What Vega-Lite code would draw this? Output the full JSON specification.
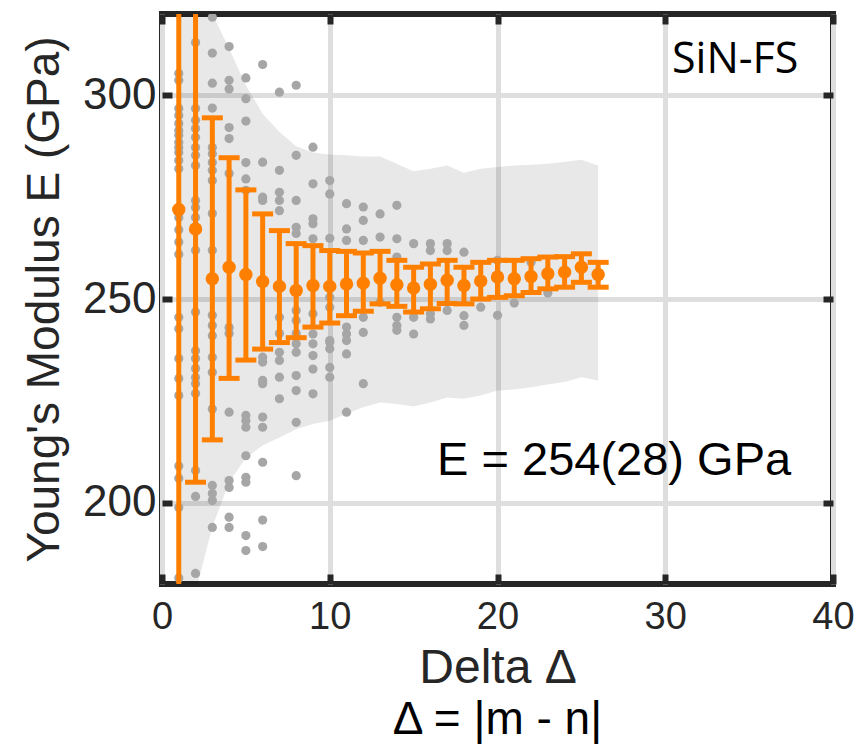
{
  "$schema": "https://vega.github.io/schema/vega-lite/v6.json",
  "width": 671,
  "height": 570,
  "autosize": "none",
  "padding": {"left": 162, "top": 14, "right": 23, "bottom": 169},
  "background": "white",
  "config": {
    "font": "Liberation Sans",
    "view": {"stroke": "#262626", "strokeWidth": 6},
    "axis": {
      "labelFont": "Liberation Sans",
      "titleFont": "Liberation Sans",
      "labelColor": "#262626",
      "titleColor": "#262626",
      "titleFontWeight": "normal",
      "labelFlush": false,
      "grid": true,
      "gridColor": "#dedede",
      "gridWidth": 5,
      "domain": false,
      "tickColor": "#262626",
      "tickWidth": 6,
      "tickSize": -10
    }
  },
  "title": {
    "text": "Δ = |m - n|",
    "orient": "bottom",
    "anchor": "middle",
    "fontSize": 46,
    "fontWeight": "normal",
    "font": "Liberation Sans",
    "color": "#000000",
    "offset": 6
  },
  "datasets": {
    "band": [
      {"d": 1, "lo": 140, "hi": 360},
      {"d": 2, "lo": 178, "hi": 340},
      {"d": 3, "lo": 194, "hi": 320},
      {"d": 4, "lo": 205, "hi": 311.5},
      {"d": 5, "lo": 211, "hi": 302.5},
      {"d": 6, "lo": 214, "hi": 295.5},
      {"d": 7, "lo": 216, "hi": 291},
      {"d": 8, "lo": 218, "hi": 287.5},
      {"d": 9, "lo": 219.3, "hi": 286},
      {"d": 10, "lo": 220.1, "hi": 285.5},
      {"d": 11, "lo": 221.8, "hi": 285.3},
      {"d": 12, "lo": 223.4, "hi": 285},
      {"d": 13, "lo": 224.6, "hi": 285},
      {"d": 14, "lo": 224.2, "hi": 283.2},
      {"d": 15, "lo": 223.6, "hi": 281.4},
      {"d": 16, "lo": 224.6, "hi": 282},
      {"d": 17, "lo": 225.8, "hi": 282.8},
      {"d": 18, "lo": 225.5, "hi": 281},
      {"d": 19, "lo": 226.3, "hi": 282},
      {"d": 20, "lo": 227.5, "hi": 282.4},
      {"d": 21, "lo": 227.8, "hi": 282.8},
      {"d": 22, "lo": 228.3, "hi": 283},
      {"d": 23, "lo": 229, "hi": 283.2},
      {"d": 24, "lo": 229.6, "hi": 283.7},
      {"d": 25, "lo": 230.8, "hi": 284.2},
      {"d": 26, "lo": 230, "hi": 282.8}
    ],
    "mean": [
      {"d": 1, "E": 272, "lo": 165, "hi": 380},
      {"d": 2, "E": 267.2, "lo": 205, "hi": 330},
      {"d": 3, "E": 255, "lo": 215.4, "hi": 294.5},
      {"d": 4, "E": 257.8, "lo": 230.5, "hi": 284.7},
      {"d": 5, "E": 256, "lo": 235, "hi": 276.8},
      {"d": 6, "E": 254.3, "lo": 237.7, "hi": 270.9},
      {"d": 7, "E": 253.1, "lo": 239.3, "hi": 266.8},
      {"d": 8, "E": 252.1, "lo": 240.5, "hi": 263.6},
      {"d": 9, "E": 253.3, "lo": 243.1, "hi": 263.1},
      {"d": 10, "E": 253.1, "lo": 244.1, "hi": 261.9},
      {"d": 11, "E": 253.7, "lo": 245.9, "hi": 261.7},
      {"d": 12, "E": 253.9, "lo": 247, "hi": 261.3},
      {"d": 13, "E": 255.1, "lo": 248.8, "hi": 261.7},
      {"d": 14, "E": 253.5, "lo": 248.2, "hi": 259.5},
      {"d": 15, "E": 252.7, "lo": 246.8, "hi": 257.8},
      {"d": 16, "E": 253.6, "lo": 247.6, "hi": 258.6},
      {"d": 17, "E": 254.6, "lo": 248.9, "hi": 259.5},
      {"d": 18, "E": 253.3, "lo": 248.8, "hi": 257.8},
      {"d": 19, "E": 254.4, "lo": 250, "hi": 259},
      {"d": 20, "E": 255.4, "lo": 250.4, "hi": 259.5},
      {"d": 21, "E": 255, "lo": 250.8, "hi": 259.5},
      {"d": 22, "E": 255.5, "lo": 251.6, "hi": 259.9},
      {"d": 23, "E": 256.2, "lo": 252.5, "hi": 260.3},
      {"d": 24, "E": 256.6, "lo": 252.9, "hi": 260.4},
      {"d": 25, "E": 257.8, "lo": 254.1, "hi": 261.1},
      {"d": 26, "E": 256, "lo": 252.9, "hi": 259}
    ],
    "pts": [
      {"d":1,"E":305.4},{"d":1,"E":303.7},{"d":1,"E":296.8},{"d":1,"E":295.1},{"d":1,"E":293.1},{"d":1,"E":291.4},{"d":1,"E":290.2},{"d":1,"E":288.5},{"d":1,"E":287.2},{"d":1,"E":286},{"d":1,"E":284},{"d":1,"E":282},{"d":1,"E":270},{"d":1,"E":267},{"d":1,"E":264},{"d":1,"E":261},{"d":1,"E":245.5},{"d":1,"E":242.7},{"d":1,"E":235.4},{"d":1,"E":230.5},{"d":1,"E":226.3},{"d":1,"E":209},{"d":1,"E":206},{"d":1,"E":198.8},{"d":1,"E":181.5},
      {"d":2,"E":313},{"d":2,"E":296.8},{"d":2,"E":293.9},{"d":2,"E":291.9},{"d":2,"E":289.7},{"d":2,"E":287.2},{"d":2,"E":285.3},{"d":2,"E":282.8},{"d":2,"E":274.2},{"d":2,"E":272.5},{"d":2,"E":270},{"d":2,"E":262},{"d":2,"E":246.8},{"d":2,"E":237.3},{"d":2,"E":235.4},{"d":2,"E":232.9},{"d":2,"E":230.7},{"d":2,"E":229.2},{"d":2,"E":226.8},{"d":2,"E":207.9},{"d":2,"E":201.5},{"d":2,"E":182.6},
      {"d":3,"E":319.2},{"d":3,"E":310.4},{"d":3,"E":303},{"d":3,"E":296.9},{"d":3,"E":287.2},{"d":3,"E":285.7},{"d":3,"E":283.5},{"d":3,"E":281.6},{"d":3,"E":279.1},{"d":3,"E":271},{"d":3,"E":262},{"d":3,"E":246},{"d":3,"E":243.5},{"d":3,"E":241},{"d":3,"E":235.7},{"d":3,"E":232},{"d":3,"E":223},{"d":3,"E":204.2},{"d":3,"E":202.2},{"d":3,"E":200.5},{"d":3,"E":193.9},
      {"d":4,"E":312},{"d":4,"E":303.7},{"d":4,"E":301.6},{"d":4,"E":292.1},{"d":4,"E":289.4},{"d":4,"E":280.8},{"d":4,"E":243},{"d":4,"E":241.5},{"d":4,"E":222.2},{"d":4,"E":205.4},{"d":4,"E":203.7},{"d":4,"E":196.4},{"d":4,"E":193.9},
      {"d":5,"E":304.3},{"d":5,"E":299.2},{"d":5,"E":293.7},{"d":5,"E":283.5},{"d":5,"E":279.5},{"d":5,"E":276.7},{"d":5,"E":221.4},{"d":5,"E":220.1},{"d":5,"E":218.5},{"d":5,"E":211.5},{"d":5,"E":206.2},{"d":5,"E":205},{"d":5,"E":191.9},{"d":5,"E":188.2},
      {"d":6,"E":307.6},{"d":6,"E":283.6},{"d":6,"E":275},{"d":6,"E":274.2},{"d":6,"E":235.7},{"d":6,"E":234.5},{"d":6,"E":230},{"d":6,"E":229.2},{"d":6,"E":221},{"d":6,"E":218.5},{"d":6,"E":209.9},{"d":6,"E":195.7},{"d":6,"E":189.2},
      {"d":7,"E":300.8},{"d":7,"E":281.6},{"d":7,"E":276.2},{"d":7,"E":274.2},{"d":7,"E":271.7},{"d":7,"E":245.5},{"d":7,"E":241.5},{"d":7,"E":236.9},{"d":7,"E":234.9},{"d":7,"E":230.8},{"d":7,"E":225.5},
      {"d":8,"E":302.5},{"d":8,"E":285.3},{"d":8,"E":274.2},{"d":8,"E":267.6},{"d":8,"E":266.1},{"d":8,"E":247.2},{"d":8,"E":244.7},{"d":8,"E":241.5},{"d":8,"E":239},{"d":8,"E":236.9},{"d":8,"E":231.2},{"d":8,"E":227.5},{"d":8,"E":219.7},{"d":8,"E":206.6},
      {"d":9,"E":287.3},{"d":9,"E":278.3},{"d":9,"E":269.7},{"d":9,"E":268.5},{"d":9,"E":264.8},{"d":9,"E":246.4},{"d":9,"E":241.4},{"d":9,"E":239},{"d":9,"E":236.1},{"d":9,"E":232.8},{"d":9,"E":226.7},
      {"d":10,"E":279.1},{"d":10,"E":275.8},{"d":10,"E":264.9},{"d":10,"E":250.4},{"d":10,"E":248},{"d":10,"E":239.8},{"d":10,"E":239.4},{"d":10,"E":237.8},{"d":10,"E":233.2},{"d":10,"E":230.8},
      {"d":11,"E":273.4},{"d":11,"E":267.2},{"d":11,"E":264.4},{"d":11,"E":243.1},{"d":11,"E":241.4},{"d":11,"E":239.8},{"d":11,"E":236.5},{"d":11,"E":222.2},
      {"d":12,"E":272.6},{"d":12,"E":269.3},{"d":12,"E":264.4},{"d":12,"E":245.5},{"d":12,"E":241.8},{"d":12,"E":229.2},
      {"d":13,"E":270.9},{"d":13,"E":265.2},{"d":13,"E":249.2},
      {"d":14,"E":273},{"d":14,"E":264.8},{"d":14,"E":260.3},{"d":14,"E":245.5},{"d":14,"E":243.5},{"d":14,"E":242.3},
      {"d":15,"E":263.6},{"d":15,"E":245.5},{"d":15,"E":241.4},
      {"d":16,"E":263.6},{"d":16,"E":261.9},{"d":16,"E":246.4},{"d":16,"E":245.1},
      {"d":17,"E":263.6},{"d":17,"E":261.9},{"d":17,"E":247.2},
      {"d":18,"E":261.5},{"d":18,"E":245.9},{"d":18,"E":243.5},
      {"d":19,"E":248},
      {"d":20,"E":259.5},{"d":20,"E":246},
      {"d":21,"E":249},
      {"d":22,"E":259},
      {"d":23,"E":251.5}
    ]
  },
  "layer": [
    {
      "data": {"name": "band"},
      "mark": {"type": "area", "color": "#000000", "opacity": 0.09, "clip": true},
      "encoding": {
        "x": {
          "field": "d", "type": "quantitative",
          "scale": {"domain": [0, 40], "nice": false},
          "axis": {"values": [0, 10, 20, 30, 40], "title": "Delta Δ", "labelFontSize": 38, "titleFontSize": 48, "labelPadding": 24, "titlePadding": 8}
        },
        "y": {
          "field": "hi", "type": "quantitative",
          "scale": {"domain": [180, 320], "nice": false, "zero": false},
          "axis": {"values": [200, 250, 300], "title": "Young's Modulus E (GPa)", "labelFontSize": 44, "titleFontSize": 46, "labelPadding": 16, "titlePadding": 14}
        },
        "y2": {"field": "lo"}
      }
    },
    {
      "data": {"name": "pts"},
      "mark": {"type": "circle", "color": "#a6a6a6", "opacity": 1, "size": 85, "clip": true},
      "encoding": {
        "x": {"field": "d", "type": "quantitative", "axis": {"orient": "top", "values": [0, 10, 20, 30, 40], "labels": false, "title": null, "grid": false}},
        "y": {"field": "E", "type": "quantitative", "axis": {"orient": "right", "values": [200, 250, 300], "labels": false, "title": null, "grid": false}}
      }
    },
    {
      "data": {"name": "mean"},
      "mark": {"type": "rule", "color": "#ff8000", "strokeWidth": 5, "clip": true},
      "encoding": {
        "x": {"field": "d", "type": "quantitative", "axis": null},
        "y": {"field": "lo", "type": "quantitative", "axis": null},
        "y2": {"field": "hi"}
      }
    },
    {
      "data": {"name": "mean"},
      "mark": {"type": "tick", "orient": "horizontal", "color": "#ff8000", "size": 21, "thickness": 5, "opacity": 1, "clip": true},
      "encoding": {
        "x": {"field": "d", "type": "quantitative", "axis": null},
        "y": {"field": "lo", "type": "quantitative", "axis": null}
      }
    },
    {
      "data": {"name": "mean"},
      "mark": {"type": "tick", "orient": "horizontal", "color": "#ff8000", "size": 21, "thickness": 5, "opacity": 1, "clip": true},
      "encoding": {
        "x": {"field": "d", "type": "quantitative", "axis": null},
        "y": {"field": "hi", "type": "quantitative", "axis": null}
      }
    },
    {
      "data": {"name": "mean"},
      "mark": {"type": "circle", "color": "#ff8000", "opacity": 1, "size": 180, "clip": true},
      "encoding": {
        "x": {"field": "d", "type": "quantitative", "axis": null},
        "y": {"field": "E", "type": "quantitative", "axis": null}
      }
    },
    {
      "data": {"values": [{}]},
      "mark": {"type": "text", "text": "E = 254(28) GPa", "font": "Liberation Sans", "fontSize": 47, "color": "#000000", "align": "left", "baseline": "middle"},
      "encoding": {
        "x": {"datum": 16.4, "type": "quantitative", "axis": null},
        "y": {"datum": 210.3, "type": "quantitative", "axis": null}
      }
    },
    {
      "data": {"values": [{}]},
      "mark": {"type": "text", "text": "SiN-FS", "font": "Open Sans", "fontSize": 43, "color": "#000000", "align": "left", "baseline": "middle"},
      "encoding": {
        "x": {"datum": 30.4, "type": "quantitative", "axis": null},
        "y": {"datum": 308.6, "type": "quantitative", "axis": null}
      }
    }
  ],
  "resolve": {"axis": {"x": "independent", "y": "independent"}}
}
